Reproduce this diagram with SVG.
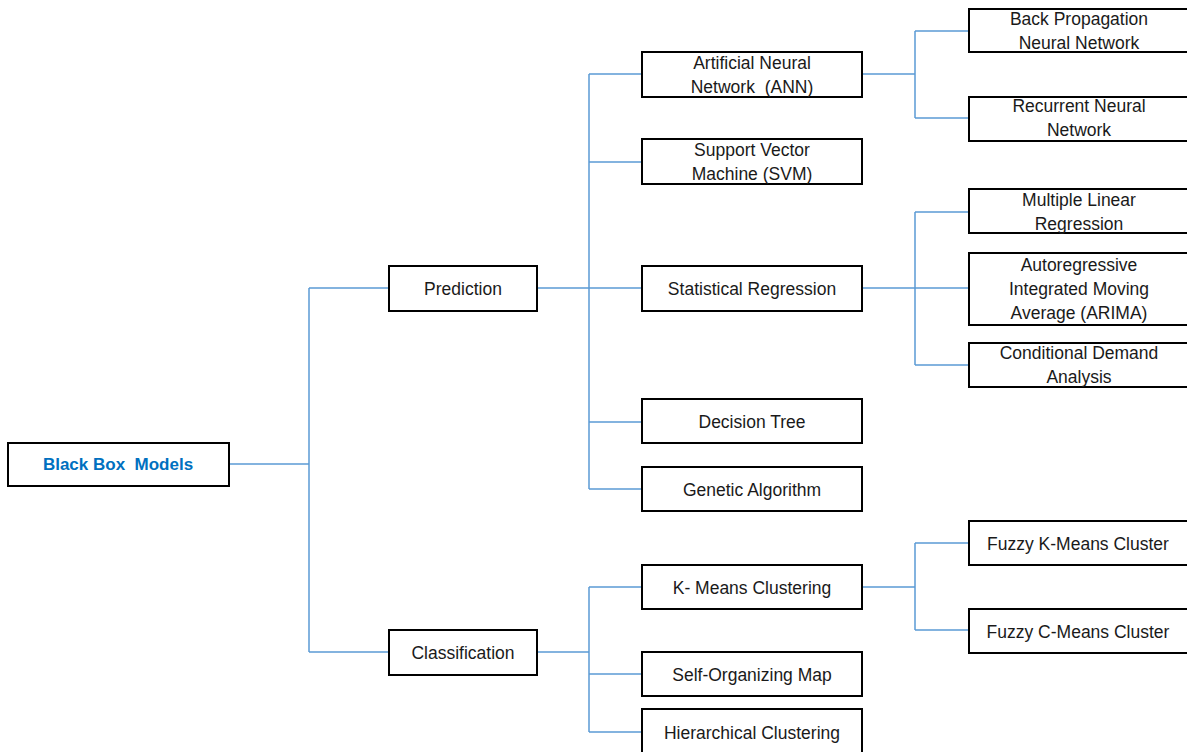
<svg xmlns="http://www.w3.org/2000/svg" width="1187" height="752" viewBox="0 0 1187 752">
<style>
.box{fill:#fff;stroke:#000;stroke-width:2}
text{white-space:pre}
.t{font-family:"Liberation Sans",Arial,sans-serif;font-size:17.5px;fill:#1a1a1a;text-anchor:middle}
.root{font-family:"Liberation Sans",Arial,sans-serif;font-size:17px;font-weight:bold;fill:#0070C0;text-anchor:middle}
.c{fill:none;stroke:#5B9BD5;stroke-width:1.5}
</style>
<rect width="1187" height="752" fill="#fff"/>
<g id="connectors">
<path class="c" d="M229,464H309M309,288V652M309,288H389M309,652H389"/>
<path class="c" d="M537,288H642M589,74V489M589,74H642M589,162H642M589,422H642M589,489H642"/>
<path class="c" d="M537,652H589M589,587V732M589,587H642M589,674H642M589,732H642"/>
<path class="c" d="M862,74H915M915,31V118M915,31H969M915,118H969"/>
<path class="c" d="M862,288H969M915,212V365M915,212H969M915,365H969"/>
<path class="c" d="M862,587H915M915,543V630M915,543H969M915,630H969"/>
</g>
<g id="n-root"><rect class="box" x="8" y="443" width="221" height="43"/><text class="root" x="118" y="470" xml:space="preserve">Black Box  Models</text></g>
<g id="n-prediction"><rect class="box" x="389" y="266" width="148" height="45"/><text class="t" x="463" y="295">Prediction</text></g>
<g id="n-classification"><rect class="box" x="389" y="630" width="148" height="45"/><text class="t" x="463" y="659">Classification</text></g>
<g id="n-ann"><rect class="box" x="642" y="52" width="220" height="45"/><text class="t" x="752" y="69">Artificial Neural</text><text class="t" x="752" y="93" xml:space="preserve">Network  (ANN)</text></g>
<g id="n-svm"><rect class="box" x="642" y="139" width="220" height="45"/><text class="t" x="752" y="156">Support Vector</text><text class="t" x="752" y="180">Machine (SVM)</text></g>
<g id="n-statreg"><rect class="box" x="642" y="266" width="220" height="45"/><text class="t" x="752" y="295">Statistical Regression</text></g>
<g id="n-dtree"><rect class="box" x="642" y="399" width="220" height="44"/><text class="t" x="752" y="428">Decision Tree</text></g>
<g id="n-ga"><rect class="box" x="642" y="467" width="220" height="44"/><text class="t" x="752" y="496">Genetic Algorithm</text></g>
<g id="n-kmeans"><rect class="box" x="642" y="565" width="220" height="44"/><text class="t" x="752" y="594">K- Means Clustering</text></g>
<g id="n-som"><rect class="box" x="642" y="652" width="220" height="44"/><text class="t" x="752" y="681">Self-Organizing Map</text></g>
<g id="n-hier"><rect class="box" x="642" y="709" width="220" height="50"/><text class="t" x="752" y="739">Hierarchical Clustering</text></g>
<g id="n-bpnn"><rect class="box" x="969" y="9" width="220" height="43"/><text class="t" x="1079" y="25">Back Propagation</text><text class="t" x="1079" y="49">Neural Network</text></g>
<g id="n-rnn"><rect class="box" x="969" y="97" width="220" height="44"/><text class="t" x="1079" y="112">Recurrent Neural</text><text class="t" x="1079" y="136">Network</text></g>
<g id="n-mlr"><rect class="box" x="969" y="189" width="220" height="44"/><text class="t" x="1079" y="206">Multiple Linear</text><text class="t" x="1079" y="230">Regression</text></g>
<g id="n-arima"><rect class="box" x="969" y="253" width="220" height="72"/><text class="t" x="1079" y="271">Autoregressive</text><text class="t" x="1079" y="295">Integrated Moving</text><text class="t" x="1079" y="319">Average (ARIMA)</text></g>
<g id="n-cda"><rect class="box" x="969" y="343" width="220" height="44"/><text class="t" x="1079" y="359">Conditional Demand</text><text class="t" x="1079" y="383">Analysis</text></g>
<g id="n-fkm"><rect class="box" x="969" y="521" width="220" height="44"/><text class="t" x="1078" y="550">Fuzzy K-Means Cluster</text></g>
<g id="n-fcm"><rect class="box" x="969" y="609" width="220" height="44"/><text class="t" x="1078" y="638">Fuzzy C-Means Cluster</text></g>
</svg>
